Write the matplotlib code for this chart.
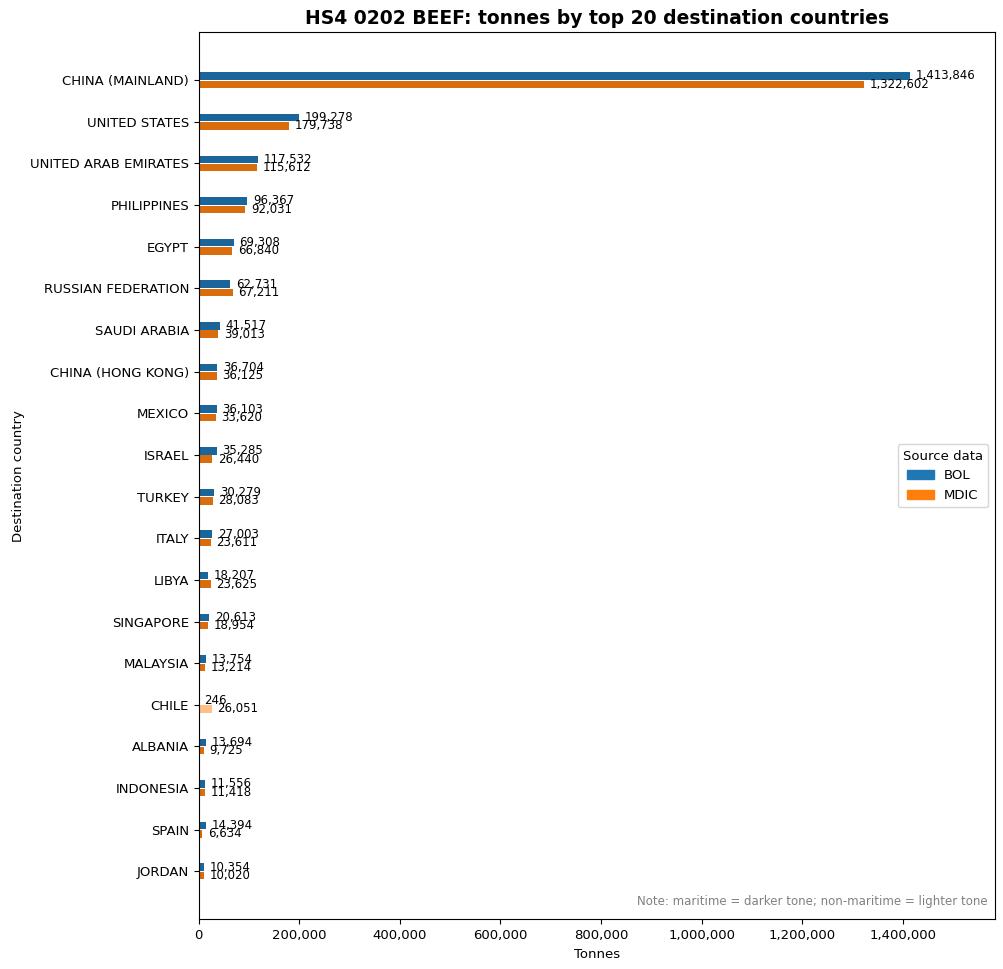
import numpy as np
import matplotlib; matplotlib.use("Agg")
import matplotlib.pyplot as plt
from matplotlib.patches import Patch
from matplotlib.ticker import FuncFormatter

countries = ["CHINA (MAINLAND)", "UNITED STATES", "UNITED ARAB EMIRATES", "PHILIPPINES",
             "EGYPT", "RUSSIAN FEDERATION", "SAUDI ARABIA", "CHINA (HONG KONG)", "MEXICO",
             "ISRAEL", "TURKEY", "ITALY", "LIBYA", "SINGAPORE", "MALAYSIA", "CHILE",
             "ALBANIA", "INDONESIA", "SPAIN", "JORDAN"]
# maritime / non-maritime tonnes per source
bol_mar = [1413846, 199278, 117532, 96367, 69308, 62731, 41517, 36704, 36103, 35285,
           30279, 27003, 18207, 20613, 13754, 0, 13694, 11556, 14394, 10354]
bol_non = [0, 0, 0, 0, 0, 0, 0, 0, 0, 0, 0, 0, 0, 0, 0, 246, 0, 0, 0, 0]
mdic_mar = [1322602, 179738, 115612, 92031, 66840, 67211, 39013, 36125, 33620, 26440,
            28083, 23611, 23625, 18954, 13214, 0, 9725, 11418, 6634, 10020]
mdic_non = [0, 0, 0, 0, 0, 0, 0, 0, 0, 0, 0, 0, 0, 0, 0, 26051, 0, 0, 0, 0]

BLUE = "#1f77b4"; ORANGE = "#ff7f0e"
BLUE_D = "#1a6599"; ORANGE_D = "#d96c0c"
BLUE_L = "#8fbbd9"; ORANGE_L = "#ffbf86"

bol_mar = np.array(bol_mar); bol_non = np.array(bol_non)
mdic_mar = np.array(mdic_mar); mdic_non = np.array(mdic_non)
bol_tot = bol_mar + bol_non; mdic_tot = mdic_mar + mdic_non
y = np.arange(len(countries))
h = 0.18; off = 0.1

fig = plt.figure(figsize=(10.04, 9.69), dpi=100)
ax = fig.add_axes([0.198, 0.0513, 0.793, 0.9154])

ax.barh(y - off, bol_mar, height=h, color=BLUE_D)
ax.barh(y - off, bol_non, left=bol_mar, height=h, color=BLUE_L)
ax.barh(y + off, mdic_mar, height=h, color=ORANGE_D)
ax.barh(y + off, mdic_non, left=mdic_mar, height=h, color=ORANGE_L)

mx = max(bol_tot.max(), mdic_tot.max())
pad = mx * 0.008
for i in range(len(countries)):
    ax.text(bol_tot[i] + pad, y[i] - off, f"{bol_tot[i]:,}", va="center", ha="left", fontsize=8.5)
    ax.text(mdic_tot[i] + pad, y[i] + off, f"{mdic_tot[i]:,}", va="center", ha="left", fontsize=8.5)

ax.set_yticks(y)
ax.set_yticklabels(countries)
ax.tick_params(labelsize=9.5)
ax.set_ylim(len(countries) - 1 + 1.15, -1.15)
ax.set_xlim(0, mx * 1.12)
ax.xaxis.set_major_formatter(FuncFormatter(lambda v, p: f"{v:,.0f}"))
ax.set_xlabel("Tonnes", fontsize=9.5)
ax.set_ylabel("Destination country", fontsize=9.5)
ax.set_title("HS4 0202 BEEF: tonnes by top 20 destination countries",
             fontsize=13.5, fontweight="bold")

ax.legend(handles=[Patch(color=BLUE, label="BOL"), Patch(color=ORANGE, label="MDIC")],
          title="Source data", loc="center right", fontsize=9.5, title_fontsize=9.5)
ax.text(0.991, 0.013, "Note: maritime = darker tone; non-maritime = lighter tone",
        transform=ax.transAxes, ha="right", va="bottom", fontsize=8.5, color="gray")

fig.savefig("out.png", dpi=100)
